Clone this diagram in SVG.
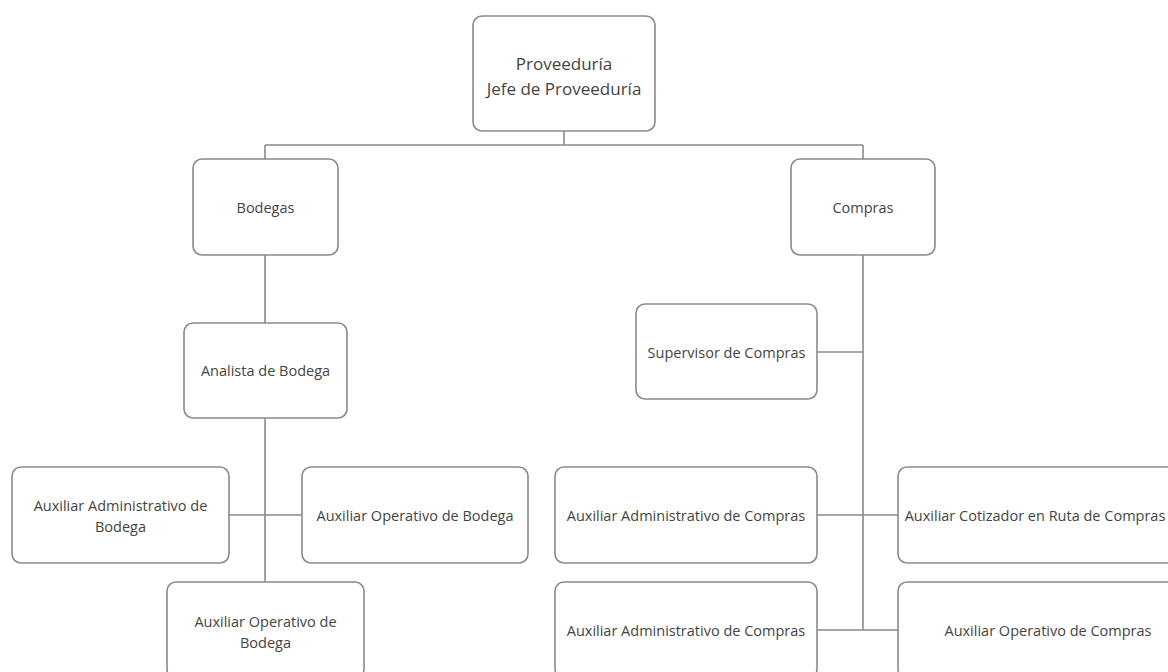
<svg xmlns="http://www.w3.org/2000/svg" width="1168" height="672" viewBox="0 0 1168 672">
  <style>
    .box { fill: #ffffff; stroke: #8a8a8a; stroke-width: 1.6; }
    .lbl { font-family: "Open Sans", "Noto Sans", "Liberation Sans", sans-serif; font-size: 14.5px; fill: #444444; text-anchor: middle; dominant-baseline: central; }
    .big { font-size: 17px; }
    .wire { fill: none; stroke: #8a8a8a; stroke-width: 1.6; }
  </style>
  <rect width="1168" height="672" fill="#ffffff"/>

  <!-- connectors -->
  <g id="connectors" class="wire">
    <path d="M564 131 V145 M265 145 H863 M265 145 V159 M863 145 V159"/>
    <path d="M265 255 V323 M265 418 V582 M229 515 H302"/>
    <path d="M863 255 V630 M817 352 H863 M817 515 H898 M817 630 H898"/>
  </g>

  <!-- org units -->
  <g id="proveeduria">
    <rect class="box" x="473" y="16" width="182" height="115" rx="9"/>
    <text class="lbl big" x="564" y="63">Proveeduría</text>
    <text class="lbl big" x="564" y="88">Jefe de Proveeduría</text>
  </g>
  <g id="bodegas">
    <rect class="box" x="193" y="159" width="145" height="96" rx="9"/>
    <text class="lbl" x="265.5" y="207">Bodegas</text>
  </g>
  <g id="compras">
    <rect class="box" x="791" y="159" width="144" height="96" rx="9"/>
    <text class="lbl" x="863" y="207">Compras</text>
  </g>
  <g id="analista-bodega">
    <rect class="box" x="184" y="323" width="163" height="95" rx="9"/>
    <text class="lbl" x="265.5" y="370">Analista de Bodega</text>
  </g>
  <g id="aux-admin-bodega">
    <rect class="box" x="12" y="467" width="217" height="96" rx="9"/>
    <text class="lbl" x="120.5" y="505">Auxiliar Administrativo de</text>
    <text class="lbl" x="120.5" y="526">Bodega</text>
  </g>
  <g id="aux-oper-bodega-1">
    <rect class="box" x="302" y="467" width="226" height="96" rx="9"/>
    <text class="lbl" x="415" y="515">Auxiliar Operativo de Bodega</text>
  </g>
  <g id="aux-oper-bodega-2">
    <rect class="box" x="167" y="582" width="197" height="96" rx="9"/>
    <text class="lbl" x="265.5" y="621">Auxiliar Operativo de</text>
    <text class="lbl" x="265.5" y="642">Bodega</text>
  </g>
  <g id="supervisor-compras">
    <rect class="box" x="636" y="304" width="181" height="95" rx="9"/>
    <text class="lbl" x="726.5" y="352">Supervisor de Compras</text>
  </g>
  <g id="aux-admin-compras-1">
    <rect class="box" x="555" y="467" width="262" height="96" rx="9"/>
    <text class="lbl" x="686" y="515">Auxiliar Administrativo de Compras</text>
  </g>
  <g id="aux-cotizador-compras">
    <rect class="box" x="898" y="467" width="300" height="96" rx="9"/>
    <text class="lbl" x="1035" y="515">Auxiliar Cotizador en Ruta de Compras</text>
  </g>
  <g id="aux-admin-compras-2">
    <rect class="box" x="555" y="582" width="262" height="96" rx="9"/>
    <text class="lbl" x="686" y="630">Auxiliar Administrativo de Compras</text>
  </g>
  <g id="aux-oper-compras">
    <rect class="box" x="898" y="582" width="300" height="96" rx="9"/>
    <text class="lbl" x="1048" y="630">Auxiliar Operativo de Compras</text>
  </g>
</svg>
